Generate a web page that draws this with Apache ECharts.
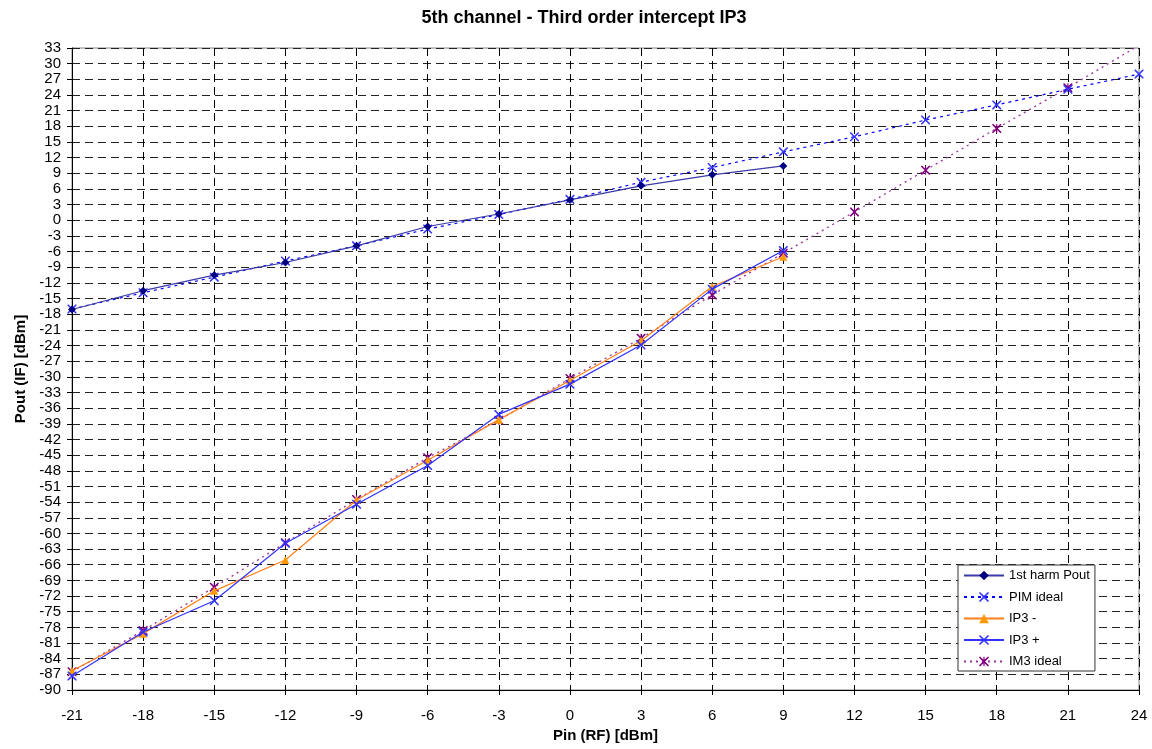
<!DOCTYPE html>
<html><head><meta charset="utf-8">
<script src="https://cdn.jsdelivr.net/npm/echarts@6/dist/echarts.min.js"></script>
<style>html,body{margin:0;padding:0;background:#fff}#c{width:1152px;height:749px}</style>
</head><body><div id="c"></div>
<script>
const xTicks = [-21,-18,-15,-12,-9,-6,-3,0,3,6,9,12,15,18,21,24];
const pinPout = [-21,-18,-15,-12,-9,-6,-3,0,3,6,9];
const pout1st = [-17.1,-13.5,-10.5,-8.1,-4.9,-1.2,1.2,3.9,6.6,8.7,10.4];
const pinIdeal = [-21,-18,-15,-12,-9,-6,-3,0,3,6,9,12,15,18,21,24];
const pimIdeal = [-17.0,-13.9,-10.9,-7.8,-4.9,-1.7,1.1,4.0,7.3,10.1,13.1,16.0,19.2,22.1,25.1,28.0];
const ip3Minus = [-86.3,-79.2,-71.0,-65.1,-53.6,-46.0,-38.2,-30.7,-23.1,-12.7,-7.0];
const ip3Plus = [-87.3,-78.9,-72.9,-61.9,-54.4,-47.0,-37.2,-31.4,-23.9,-13.2,-5.8];
const im3Ideal = [-86.5,-78.6,-70.3,-61.8,-53.5,-45.5,-38.3,-30.3,-22.6,-14.3,-6.3,1.6,9.6,17.6,25.4,33.5];

const pair = (xs, ys) => xs.slice(0, ys.length).map((x, i) => [x, ys[i]]);
const X = 'path://M0,0L1.2,0L5,3.8L8.8,0L10,0L10,1.2L6.2,5L10,8.8L10,10L8.8,10L5,6.2L1.2,10L0,10L0,8.8L3.8,5L0,1.2Z';
const AST = 'path://M0,0L1.2,0L5,3.8L8.8,0L10,0L10,1.2L6.2,5L10,8.8L10,10L8.8,10L5,6.2L1.2,10L0,10L0,8.8L3.8,5L0,1.2Z M4.4,0L5.6,0L5.6,10L4.4,10Z';
const F = 'Liberation Sans, Arial, sans-serif';

const chart = echarts.init(document.getElementById('c'));
chart.setOption({
  animation: false,
  backgroundColor: '#fff',
  title: { text: '5th channel - Third order intercept IP3', left: 579, textAlign: 'center', top: 4,
    textStyle: { fontFamily: F, fontSize: 18, fontWeight: 'bold', color: '#000' } },
  grid: { left: 72, right: 13, top: 48, bottom: 59, show: true, borderColor: '#808080', borderWidth: 1 },
  xAxis: { type: 'value', min: -21, max: 24, interval: 3,
    name: 'Pin (RF) [dBm]', nameLocation: 'middle', nameGap: 38,
    nameTextStyle: { fontFamily: F, fontSize: 15, fontWeight: 'bold', color: '#000' },
    axisLine: { show: true, onZero: false, lineStyle: { color: '#000', width: 1 } },
    axisTick: { show: true, length: 5, lineStyle: { color: '#000' } },
    axisLabel: { fontFamily: F, fontSize: 15, color: '#000', margin: 18 },
    splitLine: { show: true, lineStyle: { color: '#000', type: [8, 5], width: 1 } } },
  yAxis: { type: 'value', min: -90, max: 33, interval: 3,
    name: 'Pout (IF) [dBm]', nameLocation: 'middle', nameGap: 43, nameRotate: 90,
    nameTextStyle: { fontFamily: F, fontSize: 15, fontWeight: 'bold', color: '#000' },
    axisLine: { show: true, onZero: false, lineStyle: { color: '#000', width: 1 } },
    axisTick: { show: true, length: 5, lineStyle: { color: '#000' } },
    axisLabel: { fontFamily: F, fontSize: 15, color: '#000', margin: 11 },
    splitLine: { show: true, lineStyle: { color: '#222', type: [8, 5], width: 1 } } },
  legend: { orient: 'vertical', left: 958, top: 565, padding: [4, 5, 3, 5], itemGap: 8.5,
    backgroundColor: '#fff', borderColor: '#333', borderWidth: 1, borderRadius: 0,
    itemWidth: 40, itemHeight: 12,
    textStyle: { fontFamily: F, fontSize: 13, color: '#000' },
    data: ['1st harm Pout', 'PIM ideal', 'IP3 -', 'IP3 +', 'IM3 ideal'] },
  series: [
    { name: '1st harm Pout', type: 'line', data: pair(pinPout, pout1st), symbol: 'diamond', symbolSize: 8,
      lineStyle: { color: '#3a3aa8', width: 1.2 }, itemStyle: { color: '#000080' }, z: 5 },
    { name: 'PIM ideal', type: 'line', data: pair(pinIdeal, pimIdeal), symbol: X, symbolSize: 9,
      lineStyle: { color: '#0000ff', width: 1.2, type: [3, 4] }, itemStyle: { color: '#3333ff' }, z: 4 },
    { name: 'IP3 -', type: 'line', data: pair(pinPout, ip3Minus), symbol: 'triangle', symbolSize: 8,
      lineStyle: { color: '#ff7f1a', width: 1.2 }, itemStyle: { color: '#ff9900' }, z: 3 },
    { name: 'IP3 +', type: 'line', data: pair(pinPout, ip3Plus), symbol: X, symbolSize: 9,
      lineStyle: { color: '#3333ff', width: 1.2 }, itemStyle: { color: '#3333ff' }, z: 4 },
    { name: 'IM3 ideal', type: 'line', data: pair(pinIdeal, im3Ideal), symbol: AST, symbolSize: 9,
      lineStyle: { color: '#993399', width: 1.3, type: [2, 4] }, itemStyle: { color: '#800080' }, z: 2 }
  ]
});
</script></body></html>
